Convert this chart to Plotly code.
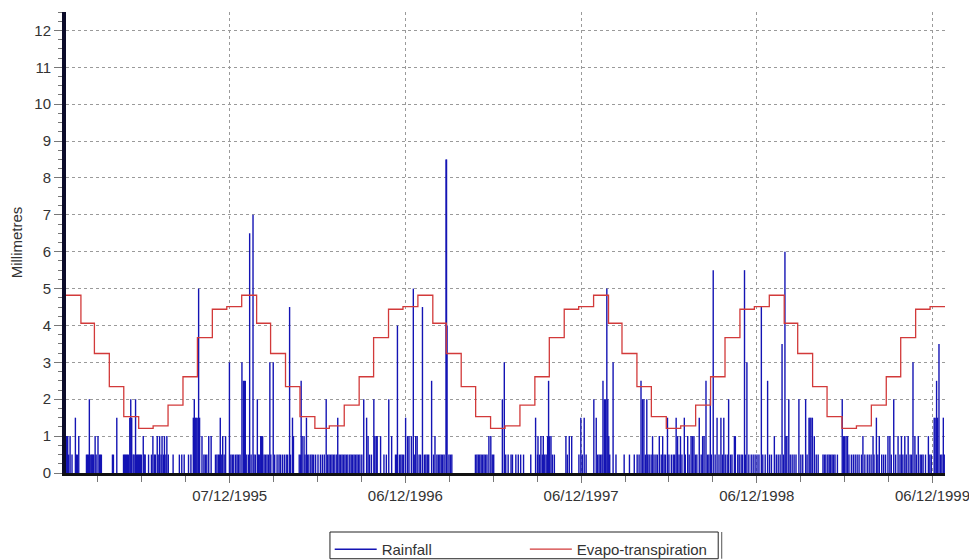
import pandas as pd
import plotly.graph_objects as go

# ---------------- data ----------------
start_date = "1995-01-01"

# Daily rainfall (mm): day index counted from 1 Jan 1995, and value
rain_day = [1, 3, 5, 8, 12, 19, 21, 23, 26,
            42, 44, 46, 48, 51, 53, 55, 57, 60, 62, 66, 69, 71, 73,
            96, 98, 105,
            119, 121, 123, 125, 127, 129, 132, 134, 136, 139, 141, 144, 146, 148, 150, 152, 154, 156, 160, 162, 164,
            171, 177, 180, 183, 185, 189, 191, 194, 197, 199, 202, 204, 207, 209, 212,
            222, 235, 240, 245, 254, 259,
            264, 266, 268, 270, 272, 275, 277, 282, 286, 289, 292, 296, 301,
            310, 313, 316, 318, 320, 322, 325, 328, 331,
            339, 342, 345, 348, 352, 355, 358, 361,
            365, 368, 370, 372, 375, 379, 381, 384, 388, 390, 393, 397, 399, 401, 404, 406, 408, 411, 414, 417, 420, 423, 425, 430, 433,
            438, 442, 445, 449, 453, 457, 460, 464, 466, 470, 472,
            484, 487, 488, 490, 494, 496, 499, 501, 504, 508, 511, 514,
            518, 523, 528, 532, 536, 540, 543, 546, 549, 552, 555, 558, 562, 564,
            567, 570, 573, 576, 579, 582, 585, 589, 592, 595, 598, 601, 604, 607, 610, 614,
            618, 624, 627, 630, 634, 639, 641, 644, 646, 653, 660, 665, 670, 676,
            684, 686, 688, 692, 695, 698, 701, 705, 709, 712, 717, 721, 724, 726, 729, 733, 736, 740, 744, 747, 750, 753, 759, 763, 766, 770, 773, 776, 779, 782, 785,
            789, 790, 791, 795, 798, 801,
            850, 853, 856, 859, 862, 865, 868, 871, 874, 878, 882, 885, 888,
            906, 910, 913, 918, 924, 927, 934, 939, 944, 950, 965,
            975, 979, 980, 983, 986, 989, 991, 994, 997, 1000, 1002, 1004, 1007, 1010, 1014,
            1038, 1041, 1045, 1050, 1065, 1069, 1072, 1076, 1080,
            1096, 1101, 1104, 1107, 1110, 1113, 1115, 1118, 1120, 1123, 1125, 1127, 1129, 1136, 1142, 1159, 1170, 1180,
            1186, 1190, 1194, 1197, 1200, 1203, 1206, 1208, 1211, 1215, 1218, 1221, 1225, 1228, 1232, 1236, 1239, 1242, 1245,
            1249, 1252, 1257, 1261, 1264, 1267, 1270, 1273, 1276, 1279, 1284, 1286, 1291, 1294, 1298, 1301, 1304, 1307, 1310,
            1315, 1319, 1322, 1325, 1329, 1332, 1335, 1338, 1340, 1344, 1348, 1352, 1356, 1360, 1363, 1366, 1369, 1373, 1376,
            1380, 1383, 1388, 1390, 1395, 1398, 1402, 1405, 1409, 1411, 1414, 1418, 1423, 1427, 1431, 1435, 1439, 1444, 1447,
            1452, 1457, 1461, 1465, 1471, 1475, 1479, 1483, 1487, 1490, 1493, 1495, 1497, 1501, 1504, 1508, 1512, 1516, 1522,
            1526, 1530, 1536, 1539, 1543, 1545, 1547, 1550, 1554, 1558, 1562,
            1572, 1575, 1578, 1582, 1585, 1588, 1591, 1594, 1597, 1602, 1612, 1615, 1617, 1620, 1623, 1626, 1631, 1635, 1639,
            1643, 1647, 1652, 1655, 1659, 1664, 1668, 1672, 1676, 1678, 1683, 1686, 1689, 1694, 1698, 1702, 1707, 1711, 1714,
            1719, 1723, 1728, 1732, 1735, 1738, 1742, 1745, 1749, 1753, 1756, 1759, 1763, 1766, 1770, 1774, 1777, 1780, 1785,
            1791, 1794, 1797, 1803, 1805, 1808, 1810, 1813, 1816, 1819, 1822, 1825]

rain_mm = [1.0, 1.0, 0.5, 1.0, 0.5, 1.5, 0.5, 0.5, 1.0,
           0.5, 0.5, 0.5, 2.0, 0.5, 0.5, 0.5, 0.5, 1.0, 0.5, 1.0, 0.5, 0.5, 0.5,
           0.5, 0.5, 1.5,
           0.5, 0.5, 0.5, 0.5, 0.5, 0.5, 1.5, 2.0, 1.5, 0.5, 0.5, 2.0, 0.5, 0.5, 0.5, 0.5, 0.5, 0.5, 1.0, 0.5, 0.5,
           0.5, 0.5, 1.0, 0.5, 0.5, 1.0, 0.5, 1.0, 0.5, 1.0, 0.5, 1.0, 0.5, 1.0, 0.5,
           0.5, 0.5, 0.5, 0.5, 0.5, 0.5,
           1.5, 2.0, 1.5, 1.5, 1.5, 5.0, 1.5, 1.0, 0.5, 0.5, 0.5, 1.0, 1.0,
           0.5, 0.5, 0.5, 0.5, 1.5, 0.5, 1.0, 0.5, 1.0,
           3.0, 0.5, 0.5, 0.5, 0.5, 0.5, 0.5, 0.5,
           3.0, 2.5, 2.5, 2.5, 0.5, 0.5, 6.5, 0.5, 7.0, 0.5, 0.5, 2.0, 0.5, 0.5, 1.0, 1.0, 1.0, 0.5, 0.5, 0.5, 0.5, 3.0, 0.5, 3.0, 0.5,
           0.5, 0.5, 0.5, 0.5, 0.5, 0.5, 0.5, 4.5, 0.5, 1.5, 1.0,
           0.5, 0.5, 2.5, 1.0, 1.0, 0.5, 1.5, 0.5, 0.5, 0.5, 0.5, 0.5,
           0.5, 0.5, 0.5, 0.5, 0.5, 2.0, 0.5, 0.5, 0.5, 0.5, 0.5, 0.5, 0.5, 1.5,
           0.5, 0.5, 0.5, 0.5, 0.5, 0.5, 0.5, 0.5, 0.5, 0.5, 0.5, 0.5, 0.5, 0.5, 0.5, 0.5,
           2.0, 1.5, 1.0, 0.5, 0.5, 2.0, 1.0, 1.0, 1.0, 1.0, 0.5, 0.5, 2.0, 1.0,
           0.5, 0.5, 4.0, 0.5, 0.5, 0.5, 0.5, 1.5, 1.0, 1.0, 1.0, 5.0, 0.5, 1.0, 1.0, 0.5, 0.5, 4.5, 0.5, 0.5, 0.5, 0.5, 2.5, 0.5, 1.0, 0.5, 0.5, 0.5, 0.5, 0.5, 0.5,
           8.5, 8.5, 4.0, 0.5, 0.5, 0.5,
           0.5, 0.5, 0.5, 0.5, 0.5, 0.5, 0.5, 0.5, 0.5, 1.0, 1.0, 0.5, 0.5,
           2.0, 3.0, 0.5, 0.5, 0.5, 0.5, 0.5, 0.5, 0.5, 0.5, 0.5,
           1.5, 0.5, 1.0, 0.5, 1.0, 0.5, 1.0, 0.5, 0.5, 1.0, 2.5, 1.0, 1.0, 0.5, 0.5,
           1.0, 0.5, 1.0, 1.0, 0.5, 1.5, 0.5, 1.5, 0.5,
           2.0, 1.5, 0.5, 0.5, 0.5, 0.5, 2.5, 2.0, 2.0, 5.0, 2.0, 1.0, 0.5, 3.0, 0.5, 0.5, 0.5, 0.5,
           0.5, 0.5, 2.5, 2.0, 2.0, 0.5, 2.0, 0.5, 0.5, 0.5, 1.0, 0.5, 0.5, 0.5, 1.0, 0.5, 1.0, 0.5, 0.5,
           1.5, 0.5, 0.5, 0.5, 0.5, 1.5, 1.0, 0.5, 1.0, 0.5, 1.5, 0.5, 1.0, 0.5, 1.0, 1.0, 1.0, 0.5, 0.5,
           1.5, 0.5, 1.0, 1.0, 2.5, 0.5, 0.5, 2.0, 0.5, 5.5, 0.5, 1.5, 0.5, 1.5, 0.5, 1.5, 0.5, 0.5, 2.0,
           0.5, 0.5, 1.0, 1.0, 0.5, 0.5, 0.5, 0.5, 5.5, 0.5, 3.0, 0.5, 0.5, 0.5, 0.5, 0.5, 0.5, 4.5, 0.5,
           0.5, 2.5, 0.5, 0.5, 1.0, 0.5, 0.5, 0.5, 3.5, 0.5, 6.0, 1.0, 1.0, 2.0, 0.5, 0.5, 0.5, 0.5, 2.0,
           0.5, 0.5, 2.0, 0.5, 1.5, 1.5, 1.5, 1.5, 1.0, 0.5, 0.5,
           0.5, 0.5, 0.5, 0.5, 0.5, 0.5, 0.5, 0.5, 0.5, 0.5, 2.0, 1.0, 1.0, 1.0, 1.0, 0.5, 0.5, 0.5, 0.5,
           0.5, 0.5, 0.5, 1.0, 0.5, 0.5, 0.5, 0.5, 1.0, 0.5, 1.5, 0.5, 1.0, 0.5, 0.5, 0.5, 1.0, 1.0, 0.5,
           2.0, 0.5, 1.0, 0.5, 1.0, 0.5, 1.0, 0.5, 1.0, 0.5, 0.5, 3.0, 1.0, 0.5, 1.0, 0.5, 0.5, 0.5, 0.5,
           1.0, 0.5, 0.5, 1.5, 1.5, 2.5, 1.5, 3.5, 0.5, 0.5, 1.5, 0.5]

# Monthly evapo-transpiration (mm/day), Jan 1995 .. Dec 1999
et_month = pd.date_range("1995-01-01", "1999-12-01", freq="MS")
et_1995 = [4.82, 4.06, 3.24, 2.34, 1.53, 1.21, 1.28, 1.84, 2.61, 3.67, 4.44, 4.51]
et_1996 = [4.82, 4.06, 3.24, 2.34, 1.53, 1.21, 1.28, 1.84, 2.61, 3.67, 4.44, 4.51]
et_1997 = [4.82, 4.06, 3.24, 2.34, 1.53, 1.21, 1.28, 1.84, 2.61, 3.67, 4.44, 4.51]
et_1998 = [4.82, 4.06, 3.24, 2.34, 1.53, 1.21, 1.28, 1.84, 2.61, 3.67, 4.44, 4.51]
et_1999 = [4.82, 4.06, 3.24, 2.34, 1.53, 1.21, 1.28, 1.84, 2.61, 3.67, 4.44, 4.51]
et_end = "2000-01-01"

tick_start = "1995-12-07"
y_title = "Millimetres"
names = ["Rainfall", "Evapo-transpiration"]

# ---------------- figure ----------------
t0 = pd.Timestamp(start_date)
rx, ry = [], []
for d, v in zip(rain_day, rain_mm):
    t = t0 + pd.Timedelta(days=d, hours=12)
    rx += [t, t, None]
    ry += [0, v, None]

et_vals = et_1995 + et_1996 + et_1997 + et_1998 + et_1999
ex = list(et_month) + [pd.Timestamp(et_end)]
ey = et_vals + [et_vals[-1]]

fig = go.Figure()
fig.add_trace(go.Scatter(x=rx, y=ry, mode="lines", name=names[0], legend="legend",
                         line=dict(color="#1414b4", width=1.4), connectgaps=False))
fig.add_trace(go.Scatter(x=ex, y=ey, mode="lines", name=names[1], legend="legend2",
                         line=dict(color="#d23a3a", width=1.3, shape="hv")))

DAY_MS = 86400000
font = "Liberation Sans, Arial, sans-serif"
leg_common = dict(orientation="h", xanchor="left", yanchor="top",
                  borderwidth=0, bgcolor="rgba(0,0,0,0)", itemwidth=42,
                  font=dict(size=15, color="#333333"))

fig.update_layout(
    width=977, height=560,
    # the page body adds an 8px offset; margins compensate for it
    margin=dict(l=58, r=40, t=4, b=95, autoexpand=False),
    paper_bgcolor="white", plot_bgcolor="white",
    font=dict(family=font, size=15, color="#333333"),
    showlegend=True,
    legend=dict(x=0.3, y=-0.13, **leg_common),
    legend2=dict(x=0.522, y=-0.13, **leg_common),
    xaxis=dict(
        type="date", automargin=False,
        range=[start_date, et_end],
        tick0=tick_start, dtick=365 * DAY_MS, tickformat="%d/%m/%Y",
        showgrid=True, gridcolor="#9a9a9a", griddash="3px,3px", gridwidth=1,
        showline=True, linecolor="#111111", linewidth=3,
        ticks="outside", ticklen=7, tickcolor="#777777",
        minor=dict(tick0=tick_start, dtick=91.25 * DAY_MS, ticks="outside",
                   ticklen=6, tickcolor="#777777", showgrid=False),
        zeroline=False,
    ),
    yaxis=dict(
        automargin=False,
        range=[0, 12.5],
        dtick=1, tick0=0,
        showgrid=True, gridcolor="#9a9a9a", griddash="3px,3px", gridwidth=1,
        showline=True, linecolor="#0c0c2a", linewidth=4,
        ticks="outside", ticklen=8, tickcolor="#777777",
        minor=dict(dtick=0.25, ticks="outside", ticklen=4, tickcolor="#777777", showgrid=False),
        zeroline=False,
        title=dict(text=y_title, standoff=14, font=dict(size=15, color="#333333")),
    ),
    shapes=[
        # legend frame with a raised right edge
        dict(type="rect", xref="paper", yref="paper", x0=0.3003, x1=0.7420, y0=-0.186, y1=-0.128,
             line=dict(color="#222222", width=1), fillcolor="rgba(0,0,0,0)", layer="below"),
        dict(type="line", xref="paper", yref="paper", x0=0.7460, x1=0.7460, y0=-0.186, y1=-0.128,
             line=dict(color="#555555", width=1)),
    ],
)

fig.write_html("out.html")
